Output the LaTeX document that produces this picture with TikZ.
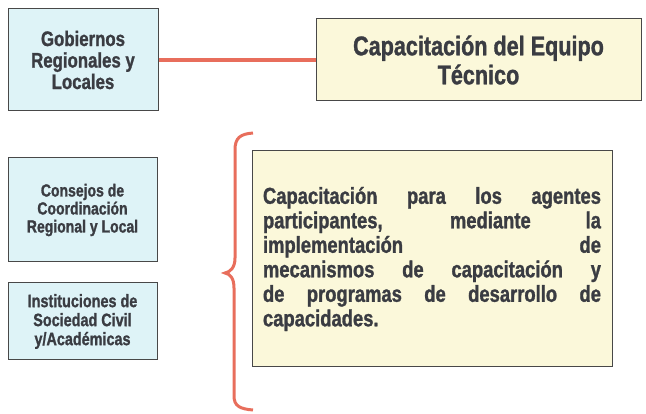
\documentclass[tikz,border=0pt]{standalone}
\usepackage{fontspec}
\newfontfamily\cajafont[FakeStretch=0.8,BoldFeatures={FakeBold=1.2}]{Liberation Sans}
\definecolor{celeste}{RGB}{222,243,247}
\definecolor{crema}{RGB}{251,248,218}
\definecolor{rojo}{RGB}{232,110,92}
\definecolor{tinta}{RGB}{58,60,66}
\definecolor{borde}{RGB}{72,72,72}

\begin{document}
\begin{tikzpicture}[x=1pt, y=1pt,
  actor/.style = {draw=borde, fill=celeste, line width=1pt, inner sep=0pt, text=tinta, align=center},
  tarea/.style = {draw=borde, fill=crema, line width=1pt, inner sep=0pt, text=tinta},
  enlace/.style = {draw=rojo, line width=3.5pt}]
\useasboundingbox (0,0) rectangle (646,-414);
% actores
\node[actor, minimum width=150pt, minimum height=102pt, font={\cajafont\bfseries\fontsize{21}{21.5}\selectfont}] (gob) at (83,-60) {Gobiernos\\Regionales y\\Locales};
\node[actor, minimum width=149pt, minimum height=104pt, font={\cajafont\bfseries\fontsize{17.5}{18}\selectfont}] (consejos) at (82.5,-210) {Consejos de\\Coordinación\\Regional y Local};
\node[actor, minimum width=149pt, minimum height=77pt, font={\cajafont\bfseries\fontsize{18}{19}\selectfont}] (inst) at (82.5,-321.5) {Instituciones de\\Sociedad Civil\\y/Académicas};
% tareas
\node[tarea, align=center, minimum width=325pt, minimum height=82pt, font={\cajafont\bfseries\fontsize{27}{29}\selectfont}] (equipo) at (478.5,-60) {Capacitación del Equipo\\Técnico};
\node[tarea, align=justify, text width=338pt, minimum width=360pt, minimum height=216pt, font={\cajafont\bfseries\fontsize{23}{24.5}\selectfont\hyphenpenalty=10000}] (agentes) at (432,-259) {Capacitación para los agentes\linebreak participantes, mediante la\linebreak implementación de\linebreak mecanismos de capacitación y\linebreak de programas de desarrollo de\linebreak capacidades.};
\draw[enlace] (gob) -- (equipo);
% llave
\coordinate (ll1) at (253,-133);
\coordinate (ll2) at (225,-273);
\coordinate (ll3) at (253,-410);
\draw[enlace, line width=3pt] (ll1) .. controls (240,-134) and (235,-138) .. (235,-150) -- (235,-258)
  .. controls (235,-268) and (230,-272) .. (ll2)
  .. controls (230,-274) and (234,-278) .. (234,-288) -- (234,-396)
  .. controls (234,-406) and (240,-409) .. (ll3);
\end{tikzpicture}
\end{document}
